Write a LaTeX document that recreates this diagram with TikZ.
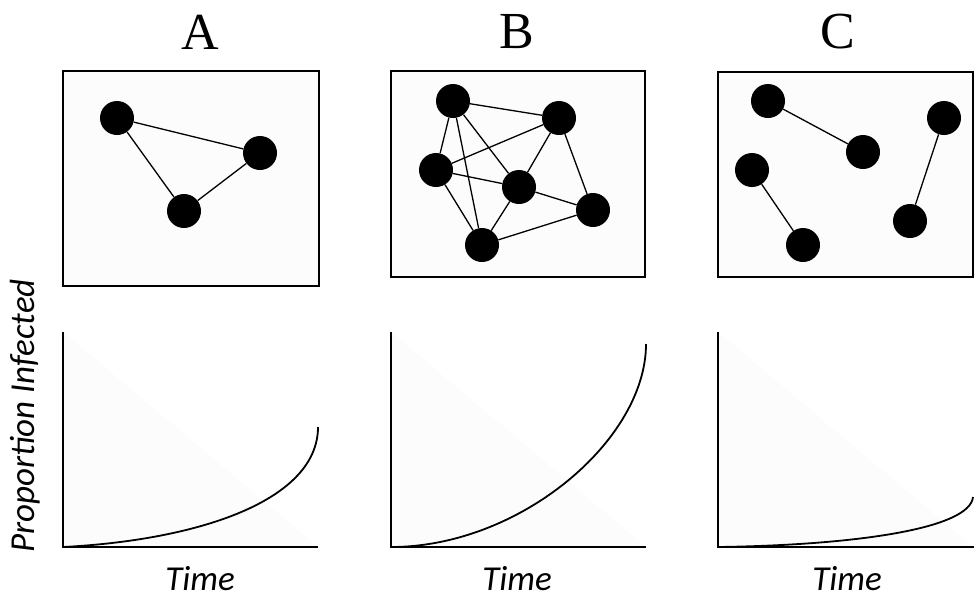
\documentclass[tikz,border=0pt]{standalone}
\usepackage{fontspec}
\setmainfont{Liberation Serif}
\newfontfamily\carl{Carlito}
\begin{document}
\begin{tikzpicture}[x=1pt,y=-1pt,
  dot/.style={circle,fill=black,inner sep=0pt,minimum size=34pt},
  frame/.style={draw=black,line width=1.4pt,fill=black!1},
  link/.style={line width=1.3pt},
  axis/.style={line width=1.8pt},
  curve/.style={line width=1.8pt},
  ttl/.style={font=\fontsize{52}{60}\selectfont},
  lab/.style={font=\carl\itshape\fontsize{35}{40}\selectfont,inner sep=0pt}]
\useasboundingbox (0,0) rectangle (974,600);
\fill[white] (0,0) rectangle (974,600);
% titles
\node[ttl] (tA) at (200,32) {A};
\node[ttl] (tB) at (517,32) {B};
\node[ttl] (tC) at (838,32) {C};
% frames
\draw[frame] (63,71) rectangle (319,286);
\draw[frame] (391,71) rectangle (645,277);
\draw[frame] (718,72) rectangle (973,277);
% network A
\node[dot] (a1) at (117,118) {};
\node[dot] (a2) at (260,153) {};
\node[dot] (a3) at (184,211) {};
\draw[link] (a1) -- (a2) (a1) -- (a3) (a3) -- (a2);
% network B
\node[dot] (b1) at (453,101) {};
\node[dot] (b2) at (559,118) {};
\node[dot] (b3) at (436,170) {};
\node[dot] (b4) at (519,187) {};
\node[dot] (b5) at (593,210) {};
\node[dot] (b6) at (482,245) {};
\draw[link] (b1) -- (b2) (b1) -- (b3) (b1) -- (b6) (b1) -- (b4)
  (b3) -- (b2) (b3) -- (b4) (b3) -- (b6) (b4) -- (b2) (b4) -- (b6)
  (b4) -- (b5) (b2) -- (b5) (b6) -- (b5);
% network C
\node[dot] (c1) at (768,101) {};
\node[dot] (c2) at (863,152) {};
\node[dot] (c3) at (752,170) {};
\node[dot] (c4) at (803,245) {};
\node[dot] (c5) at (944,118) {};
\node[dot] (c6) at (910,221) {};
\draw[link] (c1) -- (c2) (c3) -- (c4) (c5) -- (c6);
% plots: faint backgrounds
\fill[black!1] (63,332) -- (318,547) -- (63,547) -- cycle;
\fill[black!1] (391,332) -- (646,547) -- (391,547) -- cycle;
\fill[black!1] (718,332) -- (973,547) -- (718,547) -- cycle;
% axes
\coordinate (oA) at (63,547); \coordinate (yA) at (63,332); \coordinate (xA) at (318,547);
\coordinate (oB) at (391,547); \coordinate (yB) at (391,332); \coordinate (xB) at (646,547);
\coordinate (oC) at (718,547); \coordinate (yC) at (718,332); \coordinate (xC) at (974,547);
\draw[axis] (yA) -- (oA) -- (xA);
\draw[axis] (yB) -- (oB) -- (xB);
\draw[axis] (yC) -- (oC) -- (xC);
% curves
\coordinate (eA) at (318,427);
\coordinate (eB) at (646,344);
\coordinate (eC) at (973,497);
\draw[curve] (oA) .. controls (200,540) and (318,500) .. (eA);
\draw[curve] (oB) .. controls (520,547) and (646,440) .. (eB);
\draw[curve] (oC) .. controls (860,545) and (970,528) .. (eC);
% labels
\node[lab,anchor=base] (lA) at (200,590) {Time};
\node[lab,anchor=base] (lB) at (517,590) {Time};
\node[lab,anchor=base] (lC) at (847,590) {Time};
\node[lab,rotate=90] (ly) at (25,416) {Proportion Infected};
\end{tikzpicture}
\end{document}
